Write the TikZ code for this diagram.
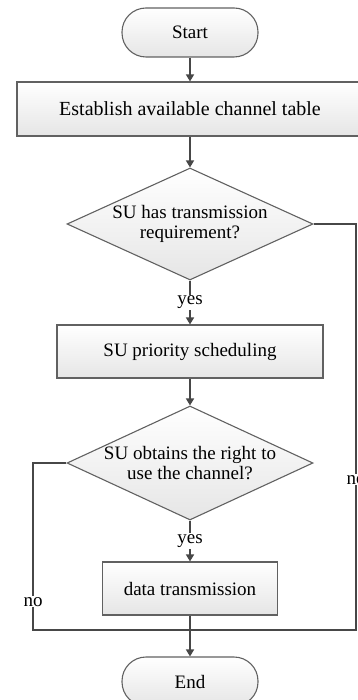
\documentclass[tikz,border=0pt]{standalone}
\usepackage{fontspec}
\setmainfont{Liberation Serif}
\usetikzlibrary{shapes.geometric,arrows.meta}
\tikzset{
  conn/.style={draw=black!72, line width=1.6pt},
  arr/.style={conn, -{Triangle[width=8pt,length=7pt]}},
  txt/.style={font=\fontsize{19}{20}\selectfont, align=center},
  process/.style={rectangle, draw=black!62, line width=1.1pt, top color=white, bottom color=black!10, txt, inner sep=0pt},
  terminal/.style={rectangle, rounded corners=24pt, draw=black!62, line width=1.1pt, top color=white, bottom color=black!10, txt, inner sep=0pt, minimum width=136pt, minimum height=49pt},
  decision/.style={diamond, draw=black!62, line width=1.1pt, top color=white, bottom color=black!10, inner sep=0pt},
  lbl/.style={txt, fill=white, inner sep=1pt},
}
\begin{document}
\begin{tikzpicture}[x=1pt,y=-1pt]
\useasboundingbox (0,0) rectangle (358,700);
\node[terminal] (start) at (190,32.5) {Start};
\node[process, minimum width=346pt, minimum height=54pt] (est) at (190,109) {\fontsize{20}{22}\selectfont Establish available channel table};
\node[decision, minimum width=246pt, minimum height=112pt,
      label={[txt]center:{SU has transmission\\requirement?}}] (d1) at (190,224) {};
\node[process, minimum width=266pt, minimum height=53pt] (sched) at (190,351.5) {SU priority scheduling};
\node[decision, minimum width=246pt, minimum height=114pt,
      label={[txt]center:{SU obtains the right to\\use the channel?}}] (d2) at (190,463) {};
\node[process, minimum width=175pt, minimum height=53pt] (dt) at (190,588.5) {data transmission};
\node[terminal] (end) at (190,681.5) {End};

\coordinate (rc1) at (356,224);
\coordinate (rc2) at (356,630);
\coordinate (lc1) at (33,463);
\coordinate (lc2) at (33,630);
\coordinate (join) at (190,630);

\draw[arr] (start) -- (est);
\draw[arr] (est) -- (d1);
\draw[arr] (d1.south) -- node[lbl]{yes} (sched.north);
\draw[arr] (sched) -- (d2);
\draw[arr] (d2.south) -- node[lbl]{yes} (dt.north);
\draw[arr] (dt) -- (end);
\draw[conn] (d1.east) -- (rc1) -- node[lbl, pos=0.63]{no} (rc2) -- (join);
\draw[conn] (d2.west) -- (lc1) -- node[lbl, pos=0.83]{no} (lc2) -- (join);
\end{tikzpicture}
\end{document}
